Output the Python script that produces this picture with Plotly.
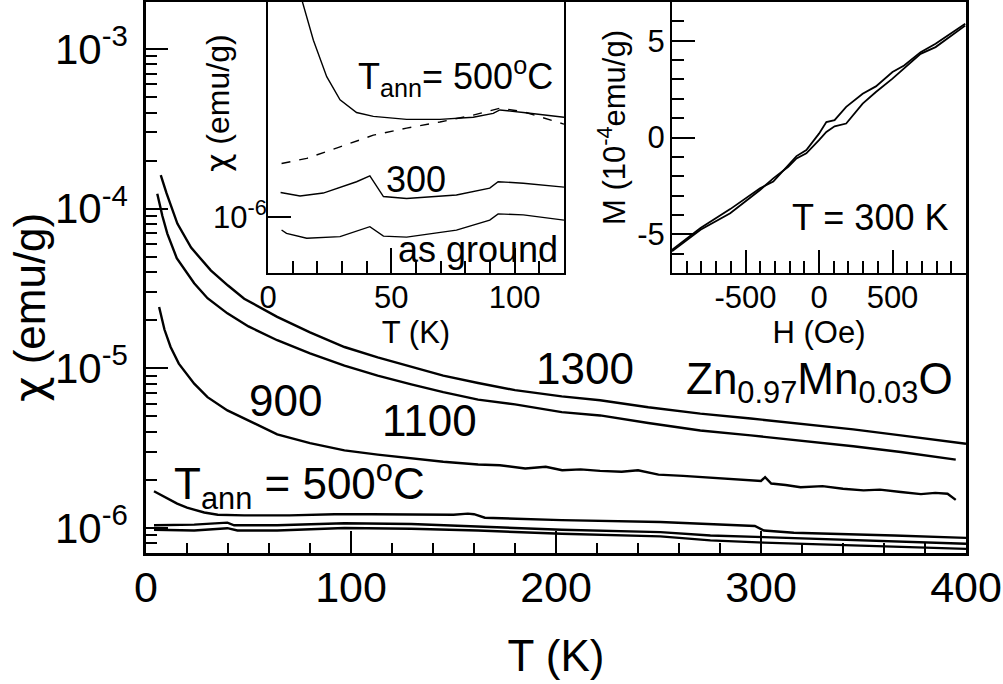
import plotly.graph_objects as go

# ---- main panel: chi(T) for different annealing temperatures ----
t_1300 = [7.2, 10, 15.3, 22, 31.6, 40, 47.9, 64, 80, 96.8, 113, 129.4, 145, 162, 180,
          202.8, 221.5, 245, 270.4, 295, 319.3, 345, 368.2, 385, 400]
chi_1300 = [1.62e-4, 1.25e-4, 8.07e-5, 5.7e-5, 4.11e-5, 3.3e-5, 2.73e-5, 2.10e-5, 1.68e-5,
            1.36e-5, 1.17e-5, 1.02e-5, 9.0e-6, 8.09e-6, 7.3e-6, 6.67e-6, 6.31e-6, 5.7e-6,
            5.20e-6, 4.85e-6, 4.50e-6, 4.15e-6, 3.80e-6, 3.58e-6, 3.37e-6]

t_1100 = [5.5, 8, 10.4, 15, 23.5, 30, 39.7, 50, 64, 80, 96.8, 113, 129.4, 145, 162, 180,
          202.8, 221.5, 245, 270.4, 295, 319.3, 345, 368.2, 385, 395]
chi_1100 = [1.24e-4, 9.0e-5, 6.98e-5, 4.9e-5, 3.41e-5, 2.75e-5, 2.21e-5, 1.83e-5, 1.50e-5,
            1.24e-5, 1.04e-5, 9.0e-6, 7.94e-6, 7.1e-6, 6.37e-6, 5.95e-6, 5.32e-6, 5.07e-6,
            4.55e-6, 4.08e-6, 3.80e-6, 3.54e-6, 3.25e-6, 2.99e-6, 2.80e-6, 2.68e-6]

t_900 = [6.4, 9, 12, 16, 23.5, 30, 39.7, 50, 64, 80, 96.8, 113, 129.4, 145, 162, 172.6,
         185, 195, 203, 212, 221.5, 232, 240, 250, 262, 270.4, 280, 290, 300, 302, 305,
         312, 319.3, 330, 340, 350, 358, 368.2, 378, 385, 391, 395]
chi_900 = [2.42e-5, 1.75e-5, 1.36e-5, 1.07e-5, 8.02e-6, 6.6e-6, 5.45e-6, 4.7e-6, 3.86e-6,
           3.4e-6, 3.06e-6, 2.88e-6, 2.72e-6, 2.6e-6, 2.50e-6, 2.47e-6, 2.36e-6, 2.42e-6,
           2.30e-6, 2.33e-6, 2.28e-6, 2.25e-6, 2.30e-6, 2.16e-6, 2.12e-6, 2.09e-6, 2.05e-6,
           2.02e-6, 1.97e-6, 2.08e-6, 1.90e-6, 1.86e-6, 1.80e-6, 1.83e-6, 1.76e-6, 1.72e-6,
           1.74e-6, 1.68e-6, 1.63e-6, 1.66e-6, 1.64e-6, 1.50e-6]

t_500 = [3.9, 10, 15.2, 20, 28.4, 35, 47.9, 70, 92, 110, 129.4, 150, 157, 160, 165.3,
         202.8, 250.9, 293.2, 297, 301.4, 316, 365, 400]
chi_500 = [1.70e-6, 1.55e-6, 1.42e-6, 1.34e-6, 1.25e-6, 1.21e-6, 1.20e-6, 1.20e-6, 1.22e-6,
           1.22e-6, 1.21e-6, 1.21e-6, 1.23e-6, 1.22e-6, 1.16e-6, 1.12e-6, 1.09e-6, 1.04e-6,
           1.03e-6, 0.964e-6, 0.933e-6, 0.898e-6, 0.867e-6]

t_300 = [3.9, 23.5, 39.7, 43, 64, 96.8, 129.4, 162, 202.8, 250.9, 275.3, 301.4, 348.7, 400]
chi_300 = [1.04e-6, 1.05e-6, 1.08e-6, 1.04e-6, 1.04e-6, 1.07e-6, 1.06e-6, 1.02e-6, 0.975e-6,
           0.942e-6, 0.898e-6, 0.877e-6, 0.836e-6, 0.796e-6]

t_asg = [3.9, 23.5, 39.7, 44.6, 64, 96.8, 129.4, 162, 202.8, 250.9, 275.3, 301.4, 348.7, 400]
chi_asg = [0.975e-6, 0.964e-6, 0.997e-6, 0.964e-6, 0.964e-6, 1.00e-6, 0.99e-6, 0.964e-6,
           0.92e-6, 0.886e-6, 0.836e-6, 0.81e-6, 0.776e-6, 0.74e-6]

# ---- inset 1: low-T detail ----
ti_500 = [10, 13.6, 18.4, 23.8, 29.2, 35.9, 42.7, 56.2, 69.7, 83.2, 91.3, 94, 103.5, 120]
ci_500 = [1.75e-6, 1.52e-6, 1.404e-6, 1.309e-6, 1.252e-6, 1.222e-6, 1.213e-6, 1.206e-6,
          1.206e-6, 1.211e-6, 1.220e-6, 1.228e-6, 1.222e-6, 1.211e-6]
ti_dash = [5.5, 15.7, 29.2, 42.7, 56.2, 69.7, 83.2, 94, 103.5, 120]
ci_dash = [1.108e-6, 1.119e-6, 1.144e-6, 1.170e-6, 1.186e-6, 1.200e-6, 1.216e-6, 1.232e-6,
           1.224e-6, 1.195e-6]
ti_300 = [5.1, 13, 22.4, 35.9, 41.3, 44, 46.8, 56.2, 76.4, 89.9, 93.3, 103.5, 120]
ci_300 = [1.048e-6, 1.041e-6, 1.047e-6, 1.070e-6, 1.082e-6, 1.060e-6, 1.040e-6, 1.036e-6,
          1.043e-6, 1.057e-6, 1.070e-6, 1.067e-6, 1.059e-6]
ti_asg = [5.5, 7.5, 15.7, 29.2, 41.3, 46.8, 56.2, 76.4, 89.9, 93.3, 103.5, 120]
ci_asg = [0.9754e-6, 0.969e-6, 0.960e-6, 0.963e-6, 0.9815e-6, 0.964e-6, 0.962e-6, 0.975e-6,
          0.994e-6, 1.006e-6, 1.004e-6, 0.994e-6]

# ---- inset 2: M(H) loop at 300 K ----
h_field = [-1000, -806, -604, -401, -311, -209, -153, -86, 0, 50, 106, 185, 297, 387, 500,
           579, 691, 793, 995]
m_up = [-5.8, -4.68, -3.7, -2.62, -2.28, -1.42, -0.96, -0.65, 0.2, 0.8, 0.9, 1.58, 2.26,
        2.64, 3.38, 3.72, 4.41, 4.84, 5.87]
m_down = [-5.88, -4.77, -3.91, -2.71, -2.11, -1.51, -1.08, -0.82, -0.14, 0.29, 0.58, 0.72,
          1.75, 2.35, 3.04, 3.55, 4.32, 4.67, 5.78]

W, H = 1003, 684
FONT = "Liberation Sans, Arial, sans-serif"
CHI = '<span style="font-family:DejaVu Sans">χ</span>'


def px(x):
    return x / W


def py(y):
    return 1 - y / H


fig = go.Figure()

main_line = dict(color="black", width=2.4)
for t, c in [(t_1300, chi_1300), (t_1100, chi_1100), (t_900, chi_900),
             (t_500, chi_500), (t_300, chi_300), (t_asg, chi_asg)]:
    fig.add_trace(go.Scatter(x=t, y=c, mode="lines", line=main_line,
                             xaxis="x", yaxis="y", showlegend=False))

ins_line = dict(color="black", width=1.4)
fig.add_trace(go.Scatter(x=ti_500, y=ci_500, mode="lines", line=ins_line,
                         xaxis="x2", yaxis="y2", showlegend=False))
fig.add_trace(go.Scatter(x=ti_dash, y=ci_dash, mode="lines",
                         line=dict(color="black", width=1.4, dash="dash"),
                         xaxis="x2", yaxis="y2", showlegend=False))
fig.add_trace(go.Scatter(x=ti_300, y=ci_300, mode="lines", line=ins_line,
                         xaxis="x2", yaxis="y2", showlegend=False))
fig.add_trace(go.Scatter(x=ti_asg, y=ci_asg, mode="lines", line=ins_line,
                         xaxis="x2", yaxis="y2", showlegend=False))

fig.add_trace(go.Scatter(x=h_field, y=m_up, mode="lines", line=dict(color="black", width=1.8),
                         xaxis="x3", yaxis="y3", showlegend=False))
fig.add_trace(go.Scatter(x=h_field, y=m_down, mode="lines", line=dict(color="black", width=1.8),
                         xaxis="x3", yaxis="y3", showlegend=False))

frame = dict(showline=True, linecolor="black", mirror=True, showgrid=False,
             zeroline=False, ticks="inside", tickcolor="black", automargin=False)

# minor log ticks for the main axis
minor_vals = [k * 10.0 ** n for n in range(-7, -2) for k in range(2, 10)]

fig.update_layout(
    width=W, height=H,
    margin=dict(l=0, r=0, t=0, b=0),
    paper_bgcolor="white", plot_bgcolor="white",
    font=dict(family=FONT, color="black"),
    xaxis=dict(frame, domain=[px(146), px(966)], range=[0, 400], linewidth=2.5,
               tickvals=[0, 100, 200, 300, 400], ticklen=22, tickwidth=2,
               minor=dict(ticks="inside", dtick=20, ticklen=10, tickwidth=2, tickcolor="black"),
               tickfont=dict(size=43), ticklabelstandoff=-5,
               title=dict(text="T (K)", font=dict(size=44), standoff=30)),
    yaxis=dict(frame, domain=[py(553), py(2)], type="log", range=[-6.1566, -2.7056],
               linewidth=2.5,
               tickvals=[1e-6, 1e-5, 1e-4, 1e-3],
               ticktext=["10<sup>-6</sup>", "10<sup>-5</sup>", "10<sup>-4</sup>", "10<sup>-3</sup>"],
               ticklen=22, tickwidth=2,
               minor=dict(ticks="inside", tickmode="array", tickvals=minor_vals, ticklen=11,
                          tickwidth=2, tickcolor="black"),
               tickfont=dict(size=42), ticklabelstandoff=7),
    xaxis2=dict(frame, anchor="y2", domain=[px(268), px(564)], range=[0, 120], linewidth=2,
                tickvals=[0, 50, 100], ticklen=25, tickwidth=1.5,
                minor=dict(ticks="inside", dtick=10, ticklen=12, tickwidth=1.5, tickcolor="black"),
                tickfont=dict(size=31), ticklabelstandoff=-4,
                title=dict(text="T (K)", font=dict(size=31), standoff=4)),
    yaxis2=dict(frame, anchor="x2", domain=[py(273), py(2)], type="log",
                range=[-6.0467, -5.8208], linewidth=2,
                tickvals=[1e-6], ticktext=["10<sup>-6</sup>"], ticklen=23, tickwidth=1.5,
                tickfont=dict(size=31), ticklabelstandoff=-7),
    xaxis3=dict(frame, anchor="y3", domain=[px(672), px(966)], range=[-1000, 1000], linewidth=2,
                tickvals=[-500, 0, 500], ticktext=["-500", "0", "500"], ticklen=23, tickwidth=1.5,
                minor=dict(ticks="inside", dtick=100, ticklen=12, tickwidth=1.5, tickcolor="black"),
                tickfont=dict(size=31), ticklabelstandoff=-4,
                title=dict(text="H (Oe)", font=dict(size=31), standoff=4)),
    yaxis3=dict(frame, anchor="x3", domain=[py(273), py(2)], range=[-7, 7], linewidth=2,
                tickvals=[-5, 0, 5], ticktext=["-5", "0", "5"], ticklen=23, tickwidth=1.5,
                minor=dict(ticks="inside", dtick=1, ticklen=12, tickwidth=1.5, tickcolor="black"),
                tickfont=dict(size=31), ticklabelstandoff=-1),
)

ann = [
    # axis titles placed by hand
    dict(x=px(30), y=py(308), text=CHI + " (emu/g)", textangle=-90, font=dict(size=44)),
    dict(x=px(218), y=py(103), text=CHI + " (emu/g)", textangle=-90, font=dict(size=32)),
    dict(x=px(612), y=py(128), text="M (10<sup>-4</sup>emu/g)", textangle=-90, font=dict(size=31)),
    # main panel labels
    dict(x=px(585), y=py(368), text="1300", font=dict(size=44)),
    dict(x=px(429), y=py(420), text="1100", font=dict(size=44)),
    dict(x=px(285), y=py(400), text="900", font=dict(size=44)),
    dict(x=px(299), y=py(484), text="T<sub>ann</sub> = 500<sup>o</sup>C", font=dict(size=44)),
    dict(x=px(819), y=py(382), text="Zn<sub>0.97</sub>Mn<sub>0.03</sub>O", font=dict(size=44)),
    # inset labels
    dict(x=px(455), y=py(76), text="T<sub>ann</sub>= 500<sup>o</sup>C", font=dict(size=36)),
    dict(x=px(416), y=py(180), text="300", font=dict(size=36)),
    dict(x=px(478), y=py(250), text="as ground", font=dict(size=36)),
    dict(x=px(870), y=py(218), text="T = 300 K", font=dict(size=36)),
]
for a in ann:
    fig.add_annotation(xref="paper", yref="paper", showarrow=False,
                       xanchor="center", yanchor="middle", **a)

# drop the default page margin so the figure sits at the window's corner
fig.write_html("out.html", config={"displayModeBar": False},
               post_script="document.body.style.margin = '0px';")
